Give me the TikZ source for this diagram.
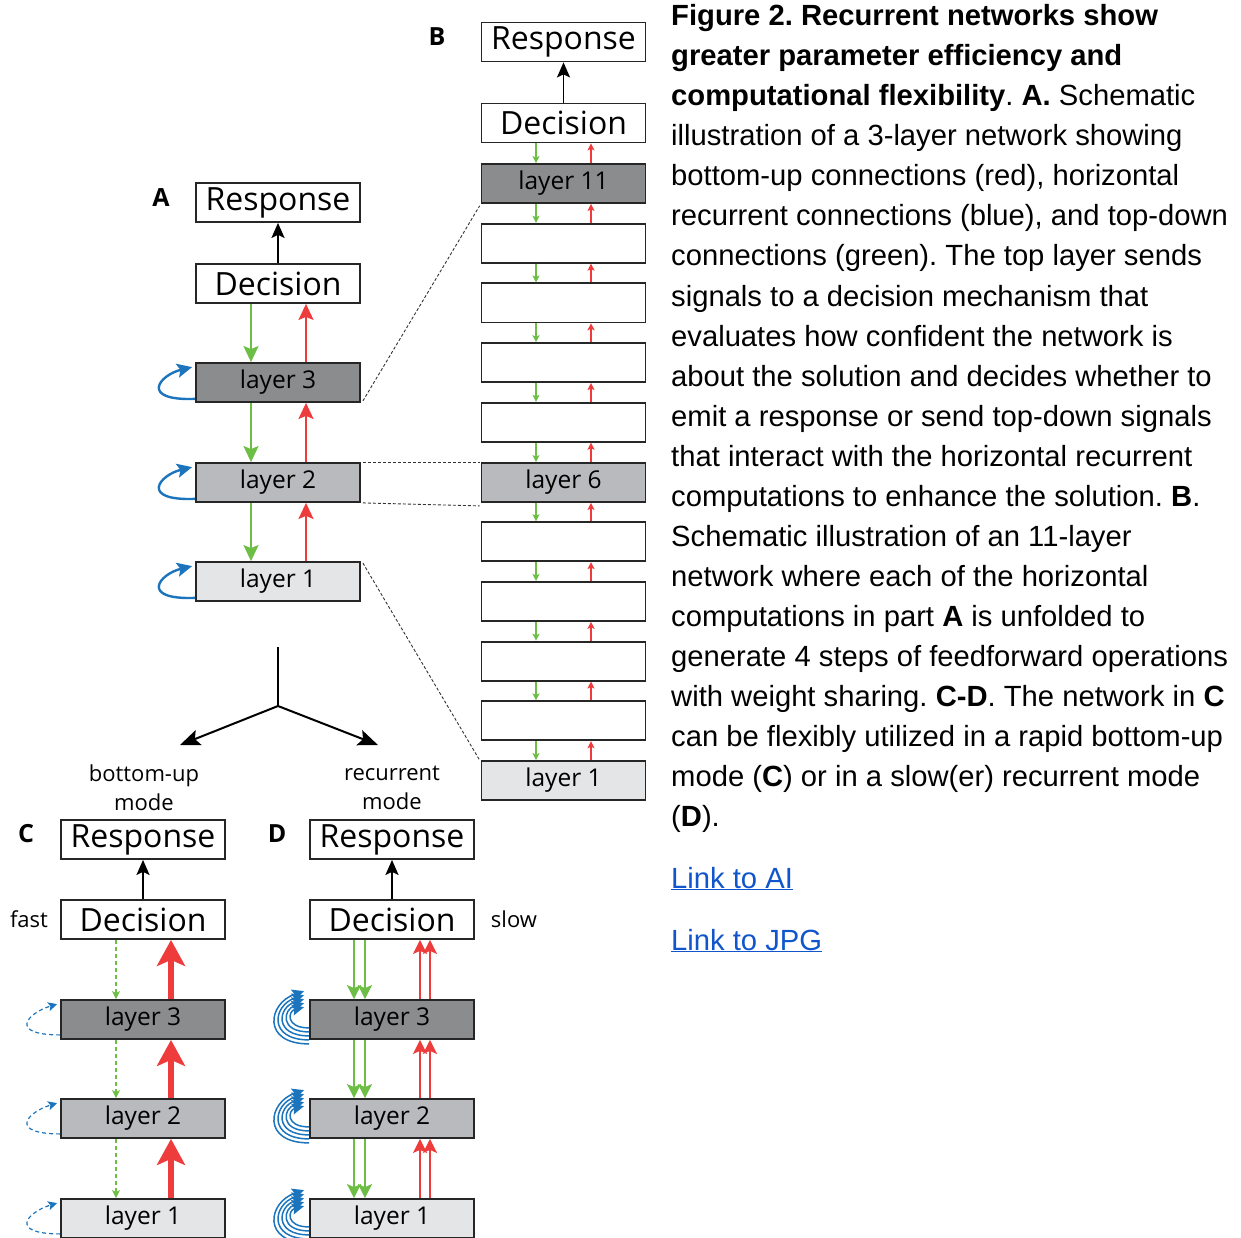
\documentclass[tikz,border=0pt]{standalone}
\usepackage{fontspec}
\setmainfont{Liberation Sans}
\newfontfamily\dfont{Open Sans}
\usetikzlibrary{arrows.meta,calc}
\definecolor{gthree}{HTML}{8B8C8E}
\definecolor{gtwo}{HTML}{B9BABD}
\definecolor{gone}{HTML}{E4E5E6}
\definecolor{grn}{HTML}{6CBE45}
\definecolor{rd}{HTML}{EE3B3B}
\definecolor{blu}{HTML}{1C75BC}
\definecolor{lnk}{HTML}{1155CC}
\frenchspacing
\begin{document}
\begin{tikzpicture}[x=1pt,y=-1pt,
  box/.style={draw=black!85, line width=1.8pt, minimum width=164pt, minimum height=39pt, inner sep=0pt, font=\dfont\fontsize{24.5}{24.5}\selectfont},
  big/.style={box, font=\dfont\fontsize{32}{32}\selectfont},
  lthree/.style={box, fill=gthree},
  ltwo/.style={box, fill=gtwo},
  lone/.style={box, fill=gone},
  panel/.style={font=\dfont\bfseries\fontsize{25}{25}\selectfont},
  smalltxt/.style={font=\dfont\fontsize{22}{29}\selectfont, align=center},
  captxt/.style={font=\fontsize{29.2}{29}\selectfont, anchor=base west, inner sep=0pt},
  karr/.style={draw=black, line width=1.8pt, -{Stealth[length=15pt,width=13pt,inset=3pt]}},
  garr/.style={draw=grn, line width=2.2pt, -{Stealth[length=16pt,width=15pt,inset=3pt]}},
  rarr/.style={draw=rd, line width=2.2pt, -{Stealth[length=16pt,width=15pt,inset=3pt]}},
  gsm/.style={draw=grn, line width=1.5pt, -{Stealth[length=7pt,width=7pt,inset=1.5pt]}},
  rsm/.style={draw=rd, line width=1.5pt, -{Stealth[length=7pt,width=7pt,inset=1.5pt]}},
  gdash/.style={draw=grn, line width=1.1pt, dash pattern=on 4pt off 3pt, -{Stealth[length=8pt,width=8pt,inset=2pt]}},
  rthick/.style={draw=rd, line width=6pt, -{Stealth[length=26pt,width=28pt,inset=6pt]}},
  gdbl/.style={draw=grn, line width=2pt, -{Stealth[length=14pt,width=14pt,inset=3pt]}},
  rdbl/.style={draw=rd, line width=2pt, -{Stealth[length=14pt,width=14pt,inset=3pt]}},
  barc/.style={draw=blu, line width=2.4pt, -{Stealth[length=15pt,width=14pt,inset=3pt]}},
  bdash/.style={draw=blu, line width=1.2pt, dash pattern=on 4pt off 3pt, -{Stealth[length=9pt,width=9pt,inset=2pt]}},
  bmulti/.style={draw=blu, line width=1.5pt, -{Stealth[length=12pt,width=11pt,inset=2pt]}},
  linkline/.style={draw=black!80, line width=0.9pt, dash pattern=on 3pt off 2pt},
  forkline/.style={draw=black, line width=2pt},
  forkarr/.style={draw=black, line width=2pt, -{Stealth[length=20pt,width=16pt,inset=4pt]}}
]
\useasboundingbox (0,0) rectangle (1241,1238);

% ---------------- Panel A ----------------
\node[panel] (labA) at (161,198) {A};
\node[big] (aR) at (278,202.5) {Response};
\node[big] (aD) at (278,283.5) {Decision};
\node[lthree] (a3) at (278,382.5) {layer 3};
\node[ltwo] (a2) at (278,482.5) {layer 2};
\node[lone] (a1) at (278,581.5) {layer 1};
\draw[karr] (aD.north) -- (aR.south);
\draw[garr] ([xshift=-27pt]aD.south) -- ([xshift=-27pt]a3.north);
\draw[garr] ([xshift=-27pt]a3.south) -- ([xshift=-27pt]a2.north);
\draw[garr] ([xshift=-27pt]a2.south) -- ([xshift=-27pt]a1.north);
\draw[rarr] ([xshift=28pt]a1.north) -- ([xshift=28pt]a2.south);
\draw[rarr] ([xshift=28pt]a2.north) -- ([xshift=28pt]a3.south);
\draw[rarr] ([xshift=28pt]a3.north) -- ([xshift=28pt]aD.south);
\foreach \n in {a3,a2,a1}{
  \draw[barc] ($(\n.south west)+(0,-4)$) .. controls +(-56,2) and +(-33,8) .. ($(\n.north west)+(-3,5)$);
}

% ---------------- Panel B ----------------
\node[panel] (labB) at (437,37) {B};
\node[big] (bR) at (563.5,42) {Response};
\node[big] (bD) at (563.5,123) {Decision};
\node[lthree] (b11) at (563.5,183.5) {layer 11};
\node[box] (b10) at (563.5,243.2) {};
\node[box] (b9) at (563.5,302.9) {};
\node[box] (b8) at (563.5,362.6) {};
\node[box] (b7) at (563.5,422.3) {};
\node[ltwo] (b6) at (563.5,482.5) {layer 6};
\node[box] (b5) at (563.5,541.7) {};
\node[box] (b4) at (563.5,601.4) {};
\node[box] (b3) at (563.5,661.1) {};
\node[box] (b2) at (563.5,720.8) {};
\node[lone] (b1) at (563.5,780.5) {layer 1};
\draw[karr] (bD.north) -- (bR.south);
\draw[gsm] ([xshift=-27.5pt]bD.south) -- ([xshift=-27.5pt]b11.north);
\draw[rsm] ([xshift=27.5pt]b11.north) -- ([xshift=27.5pt]bD.south);
\foreach \k in {1,...,10}{
  \pgfmathtruncatemacro{\up}{\k+1}
  \draw[gsm] ([xshift=-27.5pt]b\up.south) -- ([xshift=-27.5pt]b\k.north);
  \draw[rsm] ([xshift=27.5pt]b\k.north) -- ([xshift=27.5pt]b\up.south);
}
% dotted links A -> B
\draw[linkline] ($(a3.south east)+(2,-2)$) -- ($(b11.south west)+(-1,2)$);
\draw[linkline] ($(a2.north east)+(2,0)$) -- ($(b6.north west)+(-1,0)$);
\draw[linkline] ($(a2.south east)+(2,0)$) -- ($(b6.south west)+(-1,3)$);
\draw[linkline] ($(a1.north east)+(2,2)$) -- ($(b1.north west)+(-1,0)$);

% ---------------- Fork ----------------
\coordinate (ftop) at (278,647);
\coordinate (fmid) at (278,706);
\coordinate (fl) at (180,745);
\coordinate (fr) at (378,745);
\draw[forkline] (ftop) -- (fmid);
\draw[forkarr] (fmid) -- (fl);
\draw[forkarr] (fmid) -- (fr);
\node[smalltxt] (modeC) at (144,788) {bottom-up\\mode};
\node[smalltxt] (modeD) at (392,788) {recurrent\\mode};

% ---------------- Panel C ----------------
\node[panel] (labC) at (26,834) {C};
\node[big] (cR) at (143,839.5) {Response};
\node[big] (cD) at (143,919.5) {Decision};
\node[smalltxt] (fast) at (29,919) {fast};
\node[lthree] (c3) at (143,1019.5) {layer 3};
\node[ltwo] (c2) at (143,1118.5) {layer 2};
\node[lone] (c1) at (143,1218.5) {layer 1};
\draw[karr] (cD.north) -- (cR.south);
\draw[gdash] ([xshift=-27pt]cD.south) -- ([xshift=-27pt]c3.north);
\draw[gdash] ([xshift=-27pt]c3.south) -- ([xshift=-27pt]c2.north);
\draw[gdash] ([xshift=-27pt]c2.south) -- ([xshift=-27pt]c1.north);
\draw[rthick] ([xshift=28pt]c1.north) -- ([xshift=28pt]c2.south);
\draw[rthick] ([xshift=28pt]c2.north) -- ([xshift=28pt]c3.south);
\draw[rthick] ([xshift=28pt]c3.north) -- ([xshift=28pt]cD.south);
\foreach \n in {c3,c2,c1}{
  \draw[bdash] ($(\n.south west)+(0,-5)$) .. controls +(-52,0) and +(-30,9) .. ($(\n.north west)+(-3,5)$);
}

% ---------------- Panel D ----------------
\node[panel] (labD) at (277,834) {D};
\node[big] (dR) at (392,839.5) {Response};
\node[big] (dD) at (392,919.5) {Decision};
\node[smalltxt] (slow) at (514,919) {slow};
\node[lthree] (d3) at (392,1019.5) {layer 3};
\node[ltwo] (d2) at (392,1118.5) {layer 2};
\node[lone] (d1) at (392,1218.5) {layer 1};
\draw[karr] (dD.north) -- (dR.south);
\foreach \s in {-38,-27}{
  \draw[gdbl] ([xshift=\s pt]dD.south) -- ([xshift=\s pt]d3.north);
  \draw[gdbl] ([xshift=\s pt]d3.south) -- ([xshift=\s pt]d2.north);
  \draw[gdbl] ([xshift=\s pt]d2.south) -- ([xshift=\s pt]d1.north);
}
\foreach \s in {28,38}{
  \draw[rdbl] ([xshift=\s pt]d1.north) -- ([xshift=\s pt]d2.south);
  \draw[rdbl] ([xshift=\s pt]d2.north) -- ([xshift=\s pt]d3.south);
  \draw[rdbl] ([xshift=\s pt]d3.north) -- ([xshift=\s pt]dD.south);
}
\foreach \n in {d3,d2,d1}{
  \foreach \k in {0,1,2,3,4}{
    \draw[bmulti] ($(\n.south west)+(0,{-12+4*\k})$) .. controls +({-24-6*\k},0) and +({-16-5*\k},{4+2*\k}) .. ($(\n.north west)+(-5,{8-4*\k})$);
  }
}

% ---------------- Caption ----------------
\node[captxt] (t1) at (671,26) {\textbf{Figure 2. Recurrent networks show}};
\node[captxt] (t2) at (671,66) {\textbf{greater parameter efficiency and}};
\node[captxt] (t3) at (671,106) {\textbf{computational flexibility}. \textbf{A.} Schematic};
\node[captxt] (t4) at (671,146) {illustration of a 3-layer network showing};
\node[captxt] (t5) at (671,186) {bottom-up connections (red), horizontal};
\node[captxt] (t6) at (671,226) {recurrent connections (blue), and top-down};
\node[captxt] (t7) at (671,266) {connections (green). The top layer sends};
\node[captxt] (t8) at (671,306) {signals to a decision mechanism that};
\node[captxt] (t9) at (671,346) {evaluates how confident the network is};
\node[captxt] (t10) at (671,386) {about the solution and decides whether to};
\node[captxt] (t11) at (671,426) {emit a response or send top-down signals};
\node[captxt] (t12) at (671,466) {that interact with the horizontal recurrent};
\node[captxt] (t13) at (671,506) {computations to enhance the solution. \textbf{B}.};
\node[captxt] (t14) at (671,546) {Schematic illustration of an 11-layer};
\node[captxt] (t15) at (671,586) {network where each of the horizontal};
\node[captxt] (t16) at (671,626) {computations in part \textbf{A} is unfolded to};
\node[captxt] (t17) at (671,666) {generate 4 steps of feedforward operations};
\node[captxt] (t18) at (671,706) {with weight sharing. \textbf{C-D}. The network in \textbf{C}};
\node[captxt] (t19) at (671,746) {can be flexibly utilized in a rapid bottom-up};
\node[captxt] (t20) at (671,786) {mode (\textbf{C}) or in a slow(er) recurrent mode};
\node[captxt] (t21) at (671,826) {(\textbf{D}).};
\node[captxt, text=lnk] (lk1) at (671,888) {\underline{Link to AI}};
\node[captxt, text=lnk] (lk2) at (671,950) {\underline{Link to JPG}};
\end{tikzpicture}
\end{document}
